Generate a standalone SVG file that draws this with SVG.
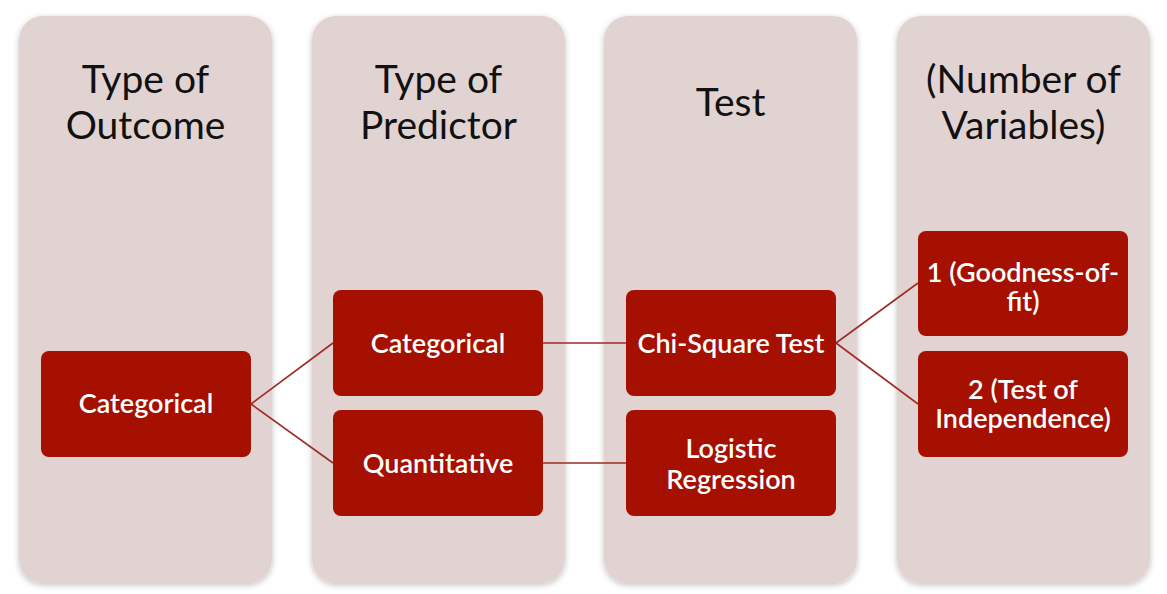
<svg xmlns="http://www.w3.org/2000/svg" width="1167" height="594" viewBox="0 0 1167 594">
<defs>
<filter id="sh" x="-10%" y="-10%" width="120%" height="120%">
<feGaussianBlur in="SourceAlpha" stdDeviation="3"/>
<feOffset dy="2"/>
<feComponentTransfer><feFuncA type="linear" slope="0.25"/></feComponentTransfer>
<feMerge><feMergeNode/><feMergeNode in="SourceGraphic"/></feMerge>
</filter>
</defs>
<style>
.col{fill:#E2D3D3;}
.node{fill:#A51000;}
.hdr{font-family:Lato,"Open Sans",sans-serif;font-size:39px;fill:#111;text-anchor:middle;}
.lbl{font-family:Lato,"Open Sans",sans-serif;font-size:27px;font-weight:600;fill:#fff;text-anchor:middle;}
.con{stroke:#9E2B25;stroke-width:1.6;fill:none;}
</style>
<rect width="1167" height="594" fill="#fff"/>
<g id="col-outcome">
<rect class="col" x="19" y="16" width="253" height="567" rx="24" filter="url(#sh)"/>
<text class="hdr" x="145.5" y="93">Type of</text>
<text class="hdr" x="145.5" y="139">Outcome</text>
</g>
<g id="col-predictor">
<rect class="col" x="312" y="16" width="253" height="567" rx="24" filter="url(#sh)"/>
<text class="hdr" x="438.5" y="93">Type of</text>
<text class="hdr" x="438.5" y="139">Predictor</text>
</g>
<g id="col-test">
<rect class="col" x="604" y="16" width="253" height="567" rx="24" filter="url(#sh)"/>
<text class="hdr" x="730.5" y="116">Test</text>
</g>
<g id="col-number">
<rect class="col" x="897" y="16" width="253" height="567" rx="24" filter="url(#sh)"/>
<text class="hdr" x="1023.5" y="93">(Number of</text>
<text class="hdr" x="1023.5" y="139">Variables)</text>
</g>
<g id="connectors">
<line class="con" x1="251" y1="404" x2="333" y2="343"/>
<line class="con" x1="251" y1="404" x2="333" y2="463"/>
<line class="con" x1="543" y1="343" x2="626" y2="343"/>
<line class="con" x1="543" y1="463" x2="626" y2="463"/>
<line class="con" x1="836" y1="343" x2="918" y2="283"/>
<line class="con" x1="836" y1="343" x2="918" y2="404"/>
</g>
<g id="node-outcome-categorical">
<rect class="node" x="41" y="351" width="210" height="106" rx="8"/>
<text class="lbl" x="146" y="413">Categorical</text>
</g>
<g id="node-predictor-categorical">
<rect class="node" x="333" y="290" width="210" height="106" rx="8"/>
<text class="lbl" x="438" y="353">Categorical</text>
</g>
<g id="node-predictor-quantitative">
<rect class="node" x="333" y="410" width="210" height="106" rx="8"/>
<text class="lbl" x="438" y="473">Quantitative</text>
</g>
<g id="node-chi-square">
<rect class="node" x="626" y="290" width="210" height="106" rx="8"/>
<text class="lbl" x="731" y="353">Chi-Square Test</text>
</g>
<g id="node-logistic">
<rect class="node" x="626" y="410" width="210" height="106" rx="8"/>
<text class="lbl" x="731" y="458">Logistic</text>
<text class="lbl" x="731" y="489">Regression</text>
</g>
<g id="node-goodness">
<rect class="node" x="918" y="231" width="210" height="105" rx="8"/>
<text class="lbl" x="1023" y="282">1 (Goodness-of-</text>
<text class="lbl" x="1023" y="311">fit)</text>
</g>
<g id="node-independence">
<rect class="node" x="918" y="351" width="210" height="106" rx="8"/>
<text class="lbl" x="1023" y="399">2 (Test of</text>
<text class="lbl" x="1023" y="428">Independence)</text>
</g>
</svg>
